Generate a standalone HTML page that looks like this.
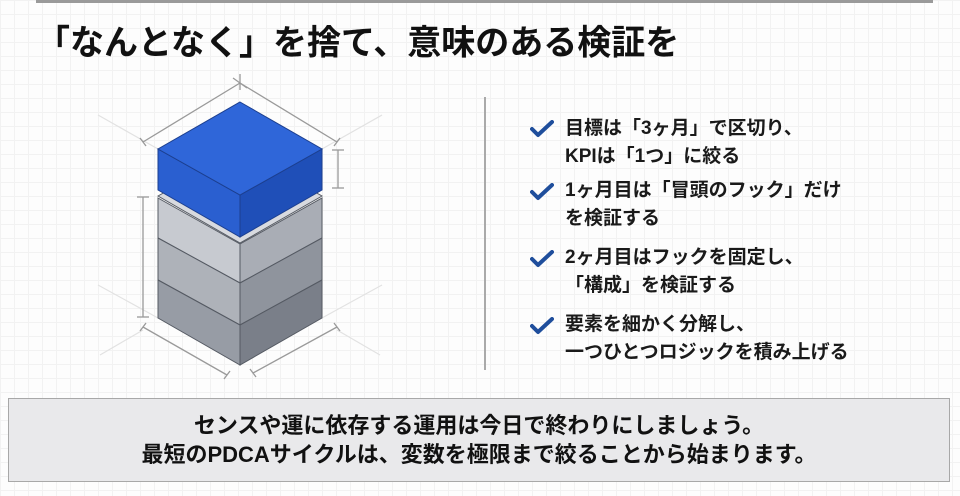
<!DOCTYPE html>
<html><head><meta charset="utf-8"><style>
html,body{margin:0;padding:0;width:960px;height:496px;overflow:hidden;background:#fff}
body{position:relative;font-family:"Liberation Sans","Noto Sans CJK JP",sans-serif;
background-color:#fdfdfd;
background-image:linear-gradient(#f2f2f2 1px,transparent 1px),linear-gradient(90deg,#f2f2f2 1px,transparent 1px);
background-size:14px 14px}
.topline{position:absolute;left:36px;top:0;width:897px;height:3px;background:#9a9a9a}
.title{position:absolute;left:36px;top:20px;font-size:34px;font-weight:bold;color:#111;white-space:nowrap;line-height:46px;transform:scaleY(1.02);transform-origin:left top}
.divider{position:absolute;left:484px;top:97px;width:2px;height:273px;background:#aaa}
.item{position:absolute;left:565px;font-size:19px;font-weight:bold;color:#1a1a1a;line-height:28px;white-space:nowrap}
.chk{position:absolute;left:530px}
.box{position:absolute;left:8px;top:398px;width:942px;height:84px;background:#e9e9eb;border:1px solid #a8a8a8;box-sizing:border-box;text-align:center;font-size:22px;font-weight:bold;color:#111;line-height:29px;padding-top:12px;white-space:nowrap}
</style></head><body>
<div class="topline"></div>
<div class="title">「なんとなく」を捨て、意味のある検証を</div>
<svg style="position:absolute;left:0;top:0" width="480" height="400" viewBox="0 0 480 400">
 <g stroke="#e2e2e2" stroke-width="1.2" fill="none">
  <line x1="98" y1="115" x2="158" y2="149"/><line x1="322" y1="149" x2="382" y2="115"/>
  <line x1="98" y1="285" x2="158" y2="318"/><line x1="322" y1="318" x2="382" y2="285"/>
  <line x1="100" y1="355" x2="143" y2="330"/><line x1="337" y1="330" x2="380" y2="355"/>
 </g>
 <g stroke="#9a9a9a" stroke-width="1.3" fill="none">
  <line x1="143" y1="142" x2="240" y2="83"/><line x1="240" y1="83" x2="337" y2="142"/>
  <line x1="240" y1="74" x2="240" y2="90"/><line x1="233" y1="78" x2="247" y2="88"/>
  <line x1="140" y1="138" x2="146" y2="146"/><line x1="334" y1="146" x2="340" y2="138"/>
  <line x1="338" y1="150" x2="338" y2="188"/><line x1="332" y1="150" x2="344" y2="150"/><line x1="332" y1="188" x2="344" y2="188"/>
  <line x1="143" y1="197" x2="143" y2="317"/><line x1="137" y1="197" x2="149" y2="197"/><line x1="137" y1="317" x2="149" y2="317"/>
  <line x1="143" y1="327" x2="227" y2="375"/><line x1="140" y1="331" x2="146" y2="323"/><line x1="224" y1="379" x2="230" y2="371"/>
  <line x1="253" y1="373" x2="337" y2="327"/><line x1="250" y1="369" x2="256" y2="377"/><line x1="334" y1="323" x2="340" y2="331"/>
 </g>
 <g stroke="#555a63" stroke-width="1">
  <polygon points="158,196 240,150 322,196 240,243" fill="#d8dadf"/>
  <polygon points="158,198 240,244 240,283 158,238" fill="#c7cad0"/>
  <polygon points="240,244 322,198 322,238 240,283" fill="#a9adb5"/>
  <polygon points="158,238 240,283 240,325 158,280" fill="#aeb2b9"/>
  <polygon points="240,283 322,238 322,280 240,325" fill="#8f949d"/>
  <polygon points="158,280 240,325 240,365 158,318" fill="#979ca5"/>
  <polygon points="240,325 322,280 322,318 240,365" fill="#7a7f89"/>
  <polygon points="158,149 240,195 240,237 158,190" fill="#2a5fd0" stroke="#1c3f8f"/>
  <polygon points="240,195 322,149 322,190 240,237" fill="#1f4fb8" stroke="#1c3f8f"/>
  <polygon points="240,102 322,149 240,195 158,149" fill="#2f66d9" stroke="#1c3f8f"/>
 </g>
</svg>
<div class="divider"></div>
<svg class="chk" style="top:120px" width="24" height="18" viewBox="0 0 24 18"><path d="M2 9 L8 15 L22 2" stroke="#1f4e9c" stroke-width="4" fill="none" stroke-linecap="round" stroke-linejoin="round"/></svg>
<svg class="chk" style="top:183px" width="24" height="18" viewBox="0 0 24 18"><path d="M2 9 L8 15 L22 2" stroke="#1f4e9c" stroke-width="4" fill="none" stroke-linecap="round" stroke-linejoin="round"/></svg>
<svg class="chk" style="top:250px" width="24" height="18" viewBox="0 0 24 18"><path d="M2 9 L8 15 L22 2" stroke="#1f4e9c" stroke-width="4" fill="none" stroke-linecap="round" stroke-linejoin="round"/></svg>
<svg class="chk" style="top:317px" width="24" height="18" viewBox="0 0 24 18"><path d="M2 9 L8 15 L22 2" stroke="#1f4e9c" stroke-width="4" fill="none" stroke-linecap="round" stroke-linejoin="round"/></svg>
<div class="item" style="top:115px">目標は「3ヶ月」で区切り、<br>KPIは「1つ」に絞る</div>
<div class="item" style="top:177px">1ヶ月目は「冒頭のフック」だけ<br>を検証する</div>
<div class="item" style="top:244px">2ヶ月目はフックを固定し、<br>「構成」を検証する</div>
<div class="item" style="top:311px">要素を細かく分解し、<br>一つひとつロジックを積み上げる</div>
<div class="box">センスや運に依存する運用は今日で終わりにしましょう。<br>最短のPDCAサイクルは、変数を極限まで絞ることから始まります。</div>
</body></html>
